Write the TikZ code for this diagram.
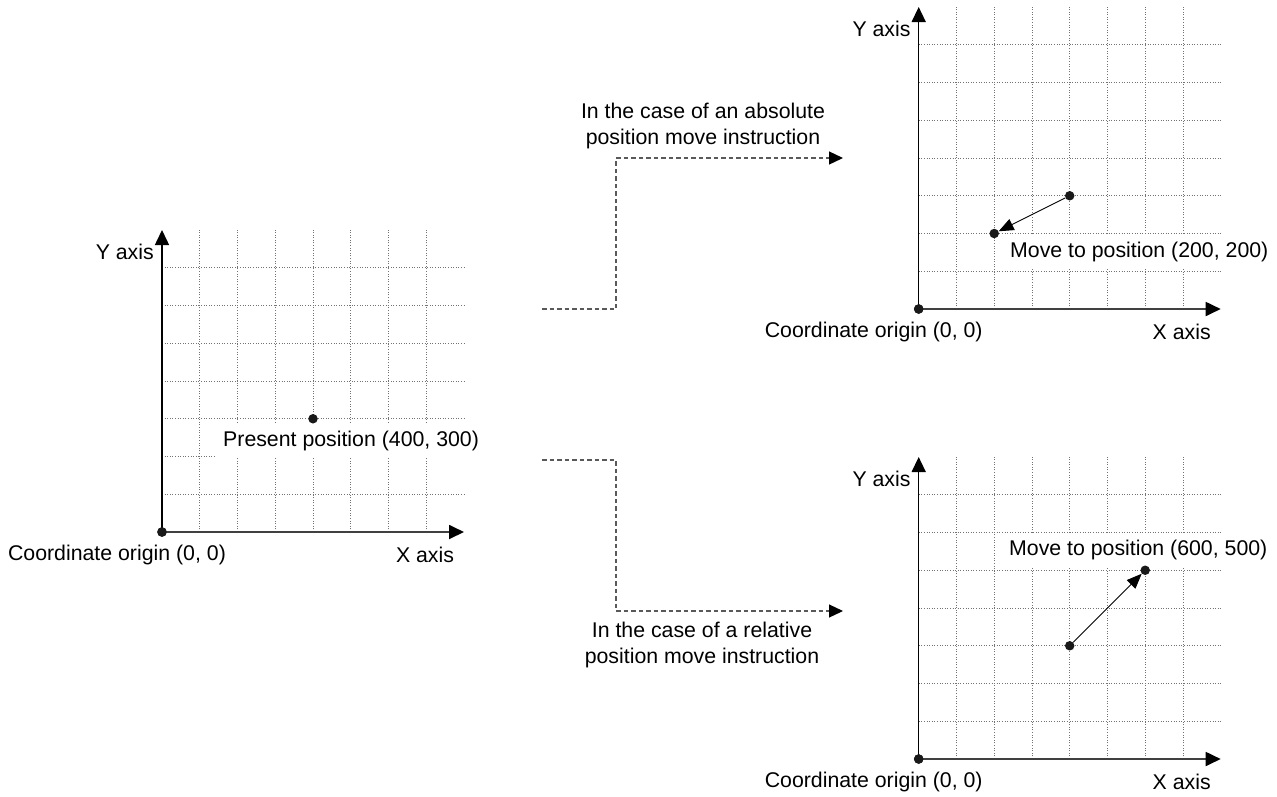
\documentclass[tikz,border=0pt]{standalone}
\usepackage{fontspec}
\setmainfont{Liberation Sans}
\usetikzlibrary{arrows.meta}

\tikzset{
  gridline/.style={black!55, line width=0.8pt, dash pattern=on 1pt off 1.6pt},
  xaxis/.style={black!75, line width=1.8pt, -{Triangle[length=15pt,width=14pt,color=black]}},
  yaxis/.style={black, line width=1.5pt, -{Triangle[length=15pt,width=14pt]}},
  dot/.style={circle, fill=black!90, draw=none, inner sep=0pt, minimum size=9.5pt},
  move/.style={black, line width=0.9pt, -{Triangle[length=15pt,width=12pt]}},
  flow/.style={black!65, line width=1.2pt, dash pattern=on 4.5pt off 3pt,
               -{Triangle[length=14pt,width=13pt,color=black]}},
  txt/.style={inner sep=0pt},
  ptlabel/.style={fill=white, inner xsep=7pt, inner ysep=7pt},
}

% one coordinate plane: #1 = name prefix, (#2,#3) = origin
\newcommand{\plane}[3]{%
  \def\cell{37.75}%
  \foreach \k in {1,...,7} {
    \draw[gridline] (#2+\k*\cell, #3) -- (#2+\k*\cell, #3-8*\cell);
    \draw[gridline] (#2, #3-\k*\cell) -- (#2+8*\cell, #3-\k*\cell);
  }
  \node[dot] (#1o) at (#2,#3) {};
  \coordinate (#1xt) at (#2+8*\cell, #3);
  \coordinate (#1yt) at (#2, #3-8*\cell);
  \draw[xaxis] (#1o.center) -- (#1xt);
  \draw[yaxis] (#1o.center) -- (#1yt);
  \node[dot] (#1o2) at (#2,#3) {};
  \node[txt, anchor=east] (#1ylab) at (#2-8, #3-8*\cell+22) {Y axis};
  \node[txt] (#1olab) at (#2-45, #3+23) {Coordinate origin (0, 0)};
  \node[txt] (#1xlab) at (#2+263, #3+23) {X axis};
}

\begin{document}
\begin{tikzpicture}[x=1pt, y=-1pt, font=\fontsize{21.3}{26}\selectfont]
  \useasboundingbox (0,0) rectangle (1277,796);

  % starting plane
  \plane{L}{162}{532}
  \node[ptlabel, anchor=west] (Lptlab) at (216,441) {Present position (400, 300)};
  \node[dot] (Lp) at (313.0,418.75) {};

  % absolute move
  \plane{A}{918.7}{309}
  \node[ptlabel, anchor=west] (Aptlab) at (1003,252) {Move to position (200, 200)};
  \node[dot] (Ap) at (1069.7,195.75) {};
  \node[dot] (Aq) at (994.2,233.5) {};
  \draw[move] (Ap) -- (Aq);

  % relative move
  \plane{R}{918.7}{759}
  \node[ptlabel, anchor=west] (Rptlab) at (1002,550) {Move to position (600, 500)};
  \node[dot] (Rp) at (1069.7,645.75) {};
  \node[dot] (Rq) at (1145.2,570.25) {};
  \draw[move] (Rp) -- (Rq);

  % branch connectors
  \coordinate (ua) at (542,309);
  \coordinate (ub) at (616,309);
  \coordinate (uc) at (616,158);
  \coordinate (ud) at (843,158);
  \draw[flow] (ua) -- (ub) -- (uc) -- (ud);
  \node[txt, align=center] (ulab) at (703,126)
    {In the case of an absolute\\position move instruction};

  \coordinate (da) at (542,460);
  \coordinate (db) at (616,460);
  \coordinate (dc) at (616,611);
  \coordinate (dd) at (843,611);
  \draw[flow] (da) -- (db) -- (dc) -- (dd);
  \node[txt, align=center] (dlab) at (702,645)
    {In the case of a relative\\position move instruction};
\end{tikzpicture}
\end{document}
